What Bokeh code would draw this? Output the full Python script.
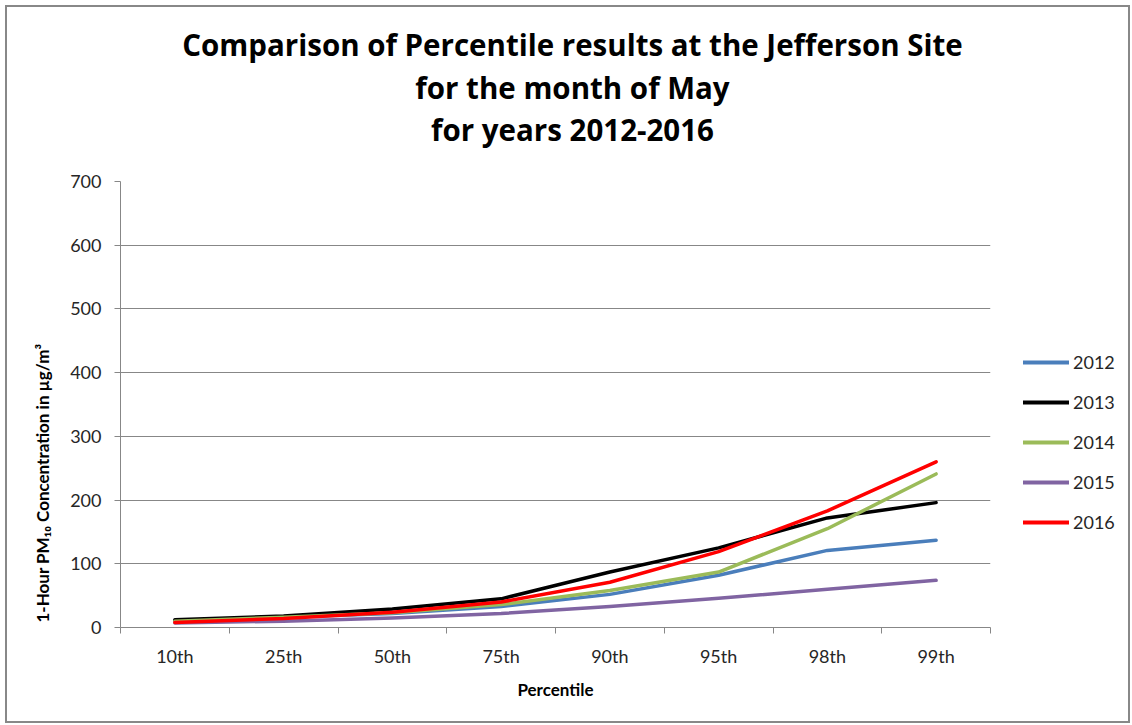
from bokeh.plotting import figure
from bokeh.layouts import column, row
from bokeh.models import Range1d, FixedTicker, Legend, LegendItem, Title
from bokeh.core.properties import value
from bokeh.embed import file_html
from bokeh.resources import INLINE

categories = ["10th", "25th", "50th", "75th", "90th", "95th", "98th", "99th"]
years = ["2012", "2013", "2014", "2015", "2016"]
y2012 = [11, 16, 22, 33, 52, 82, 121, 137]
y2013 = [12, 18, 29, 45, 87, 125, 172, 196]
y2014 = [10, 16, 23, 36, 58, 87, 155, 241]
y2015 = [7, 10, 15, 22, 33, 46, 60, 74]
y2016 = [8, 14, 24, 40, 71, 119, 183, 260]
y_ticks = [0, 100, 200, 300, 400, 500, 600, 700]
title_lines = ["Comparison of Percentile results at the Jefferson Site",
               "for the month of May",
               "for years 2012-2016"]
y_title = "1-Hour PM\u2081\u2080 Concentration in \u00b5g/m\u00b3"
x_title = "Percentile"

series = [y2012, y2013, y2014, y2015, y2016]
colors = ["#4A7EBB", "#000000", "#9BBB59", "#8064A2", "#FF0000"]

FONT = "Lato"
TFONT = "Open Sans"
TXT = "#262626"
GRID = "#878787"

TOTAL_W = 1121
TITLE_H = 164
MAIN_W = 985
MAIN_H = 550
LEG_W = TOTAL_W - MAIN_W

# ---------- title strip ----------
pt = figure(width=TOTAL_W, height=TITLE_H, output_backend="svg", toolbar_location=None,
            x_range=Range1d(0, TOTAL_W), y_range=Range1d(TITLE_H, 0),
            min_border=0, outline_line_color=None)
pt.axis.visible = False
pt.grid.visible = False
pt.text(x=[565, 565, 565], y=[37, 80, 122], text=title_lines,
        text_align="center", text_baseline="middle",
        text_font=value(TFONT), text_font_style="bold", text_font_size="29.5px",
        text_color="#000000")

# ---------- main plot ----------
p = figure(width=MAIN_W, height=MAIN_H, output_backend="svg", toolbar_location=None,
           x_range=Range1d(0, len(categories)), y_range=Range1d(0, 700),
           min_border_left=113, min_border_right=2, min_border_top=10,
           min_border_bottom=94)
p.outline_line_color = None

xs = [i + 0.5 for i in range(len(categories))]

xa = p.xaxis[0]
xa.ticker = FixedTicker(ticks=xs, minor_ticks=list(range(len(categories) + 1)))
xa.major_label_overrides = {x: c for x, c in zip(xs, categories)}
xa.major_tick_line_color = None
xa.major_tick_out = 6
xa.major_tick_in = 0
xa.minor_tick_line_color = GRID
xa.minor_tick_out = 6
xa.minor_tick_in = 0
xa.axis_line_color = GRID
xa.major_label_text_font = FONT
xa.major_label_text_font_size = "18px"
xa.major_label_text_color = TXT
xa.major_label_standoff = 11
xa.axis_label = x_title
xa.axis_label_text_font = FONT
xa.axis_label_text_font_style = "bold"
xa.axis_label_text_font_size = "17px"
xa.axis_label_text_color = "#000000"
xa.axis_label_standoff = 9

ya = p.yaxis[0]
ya.ticker = FixedTicker(ticks=y_ticks, minor_ticks=[])
ya.major_tick_line_color = GRID
ya.major_tick_out = 6
ya.major_tick_in = 0
ya.minor_tick_line_color = None
ya.axis_line_color = GRID
ya.major_label_text_font = FONT
ya.major_label_text_font_size = "18px"
ya.major_label_text_color = TXT
ya.major_label_standoff = 13

p.xgrid.visible = False
p.ygrid.grid_line_color = GRID
p.ygrid.grid_line_width = 1

for vals, col in zip(series, colors):
    p.line(xs, vals, line_color=col, line_width=3.5, line_join="round", line_cap="round")

p.add_layout(Title(text=y_title, align="left", offset=5, text_font=FONT,
                   text_font_style="bold", text_font_size="17px",
                   text_color="#000000", standoff=30), "left")

# ---------- legend strip (same series, drawn outside its visible range) ----------
pl = figure(width=LEG_W, height=MAIN_H, output_backend="svg", toolbar_location=None,
            x_range=Range1d(0, 1), y_range=Range1d(-20, -10),
            min_border=0, outline_line_color=None)
pl.axis.visible = False
pl.grid.visible = False
items = []
for name, vals, col in zip(years, series, colors):
    r = pl.line(xs, vals, line_color=col, line_width=4, line_cap="round")
    items.append(LegendItem(label=name, renderers=[r]))
legend = Legend(items=items, location=(31, 94), orientation="vertical",
                padding=0, margin=0, spacing=18, label_height=20, glyph_height=20,
                glyph_width=46, label_standoff=4, label_text_font=FONT,
                label_text_font_size="18px", label_text_color=TXT,
                background_fill_alpha=0, border_line_color=None)
pl.add_layout(legend)

layout = column(pt, row(p, pl, spacing=0), spacing=0)
layout.styles = {"border": "2px solid #888888", "background-color": "white",
                 "margin": "5px 0 0 5px"}

open("out.html", "w").write(file_html(layout, INLINE))
